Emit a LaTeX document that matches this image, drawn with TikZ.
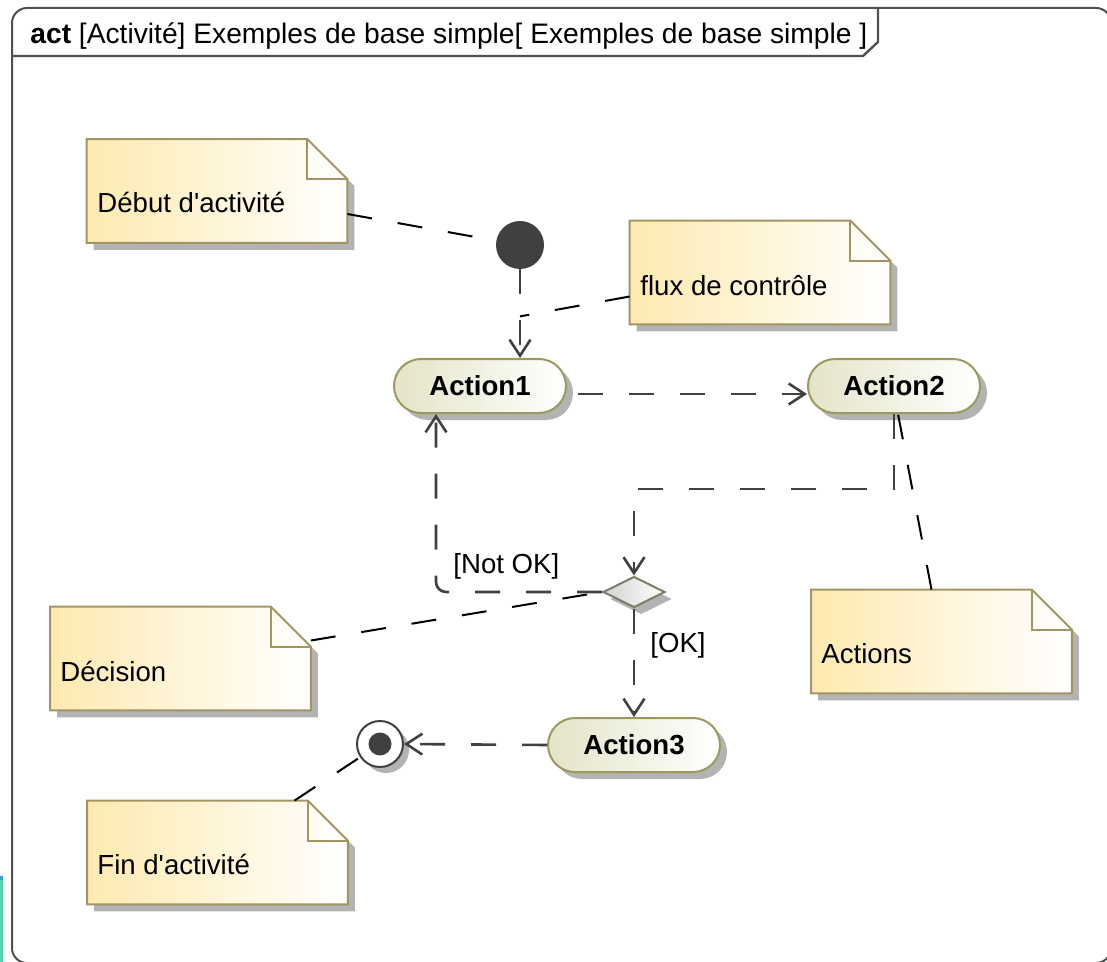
\documentclass[tikz,border=0pt]{standalone}
\usepackage{fontspec}
\setmainfont{Liberation Sans}
\usetikzlibrary{arrows.meta,shapes.misc,shapes.geometric,shadows,calc}
\definecolor{linec}{HTML}{404040}
\definecolor{frameC}{HTML}{505050}
\definecolor{noteB}{HTML}{A39562}
\definecolor{noteY}{HTML}{FEEAB0}
\definecolor{actB}{HTML}{9A9A5C}
\definecolor{actF}{HTML}{E4E4C8}
\definecolor{shad}{HTML}{B3B3B3}
\definecolor{decF}{HTML}{D2D2D2}
\definecolor{decB}{HTML}{7E7E68}
\definecolor{tealA}{HTML}{5AD2B4}
\definecolor{blueA}{HTML}{3A9FD0}
\newcommand\drawnote[1]{%
  \fill[shad] ($(#1.north east)+(7,47)$) -- ($(#1.south east)+(7,7)$) -- ($(#1.south west)+(7,7)$) -- ($(#1.south west)+(7,0)$) -- (#1.south east) -- ($(#1.north east)+(0,40)$) -- cycle;
  \shade[left color=noteY, right color=white] (#1.north west) -- ($(#1.north east)+(-40,0)$) -- ($(#1.north east)+(0,40)$) -- (#1.south east) -- (#1.south west) -- cycle;
  \draw[noteB, line width=1pt, line join=miter] (#1.north west) -- ($(#1.north east)+(-40,0)$) -- ($(#1.north east)+(0,40)$) -- (#1.south east) -- (#1.south west) -- cycle;
  \draw[noteB, line width=1pt] ($(#1.north east)+(-40,0)$) -- ($(#1.north east)+(-40,40)$) -- ($(#1.north east)+(0,40)$);
}
\begin{document}
\begin{tikzpicture}[x=0.5pt,y=-0.5pt,
  font=\fontsize{13.8}{16}\selectfont,
  flow/.style={draw=linec, line width=1.3pt, dash pattern=on 12.5pt off 13pt, -{Straight Barb[length=8pt,width=10.5pt]}},
  anchorline/.style={draw=black, line width=1pt, dash pattern=on 12.5pt off 13pt},
  action/.style={rounded rectangle, draw=actB, line width=1pt, left color=actF, right color=white,
    minimum width=86pt, minimum height=27pt, inner sep=0pt,
    font=\fontsize{13.8}{16}\selectfont\bfseries,
    drop shadow={shadow xshift=3.5pt, shadow yshift=-3.5pt, fill=shad, opacity=1}},
  notebox/.style={minimum width=130pt, minimum height=51.5pt, inner sep=0pt},
  notetext/.style={anchor=base west, inner sep=0pt},
  lbl/.style={anchor=base west, inner sep=0pt}]
\useasboundingbox (0,0) rectangle (1107,962);
% frame
\begin{scope}
\clip (0,0) rectangle (1107,962);
\draw[frameC, line width=1pt, rounded corners=7.5pt] (12,8) rectangle (1111,963);
\end{scope}
\draw[frameC, line width=1.2pt] (12,56) -- (863,56) -- (878,42) -- (878,8);
\node[anchor=base west, inner sep=0pt, font=\fontsize{14.1}{16}\selectfont] (title) at (30,44)
  {\textbf{act} [Activité] Exemples de base simple[ Exemples de base simple ]};
\fill[tealA] (0,878) rectangle (2.5,962);
\fill[blueA] (0,876) rectangle (2.5,880);

% notes
\node[notebox] (n1) at (217,191) {};
\node[notebox] (n2) at (760,272.5) {};
\node[notebox] (n3) at (180.5,658.5) {};
\node[notebox] (n4) at (941.5,641.5) {};
\node[notebox] (n5) at (217.5,852.5) {};
\drawnote{n1}\drawnote{n2}\drawnote{n3}\drawnote{n4}\drawnote{n5}
\node[notetext] (t1) at (97,213) {Début d\textquotesingle activité};
\node[notetext] (t2) at (640,296) {flux de contrôle};
\node[notetext] (t3) at (60,681) {Décision};
\node[notetext] (t4) at (821,663) {Actions};
\node[notetext] (t5) at (97,874) {Fin d\textquotesingle activité};

% activity nodes
\node[circle, fill=linec, minimum size=24pt, inner sep=0pt] (init) at (520,245) {};
\node[action] (a1) at (480,386) {Action1};
\node[action] (a2) at (894,386) {Action2};
\node[action] (a3) at (634,745) {Action3};
\node[diamond, draw=decB, line width=1pt, left color=decF, right color=white,
  minimum width=31pt, minimum height=15.5pt, inner sep=0pt,
  drop shadow={shadow xshift=3.5pt, shadow yshift=-3.5pt, fill=shad, opacity=1}] (dec) at (634,592) {};
\node[circle, draw=linec, line width=1pt, fill=white, minimum size=23pt, inner sep=0pt,
  drop shadow={shadow xshift=3pt, shadow yshift=-3pt, fill=shad, opacity=1}] (fin) at (380,744) {};
\node[circle, fill=linec, minimum size=11.5pt, inner sep=0pt] (findot) at (fin) {};

% control flows
\draw[flow] (init.south) -- (init.south |- a1.north) coordinate[pos=0.53] (fc);
\draw[flow] ($(a1.east)+(11,8)$) -- ($(a2.west)+(0,8)$);
\draw[flow] (a2.south) -- ++(0,75) -| (dec.north);
\draw[flow, rounded corners=5pt] (dec.west) -| ($(a1.south)+(-44,0)$);
\draw[flow] (dec.south) -- (a3.north);
\draw[flow] (a3.west) -- (fin.east);
\node[lbl] (lnok) at (453,573) {[Not OK]};
\node[lbl] (lok) at (650,652) {[OK]};

% note anchors
\draw[anchorline] ($(n1.east)+(0,23)$) -- (init);
\draw[anchorline] ($(n2.west)+(0,24)$) -- (fc);
\draw[anchorline] ($(n4.north)+(-10,0)$) -- ($(a2.south)+(4,0)$);
\draw[anchorline] ($(n3.east)+(0,-18)$) -- (dec.west);
\draw[anchorline] ($(n5.north)+(77,0)$) -- (fin);
\end{tikzpicture}
\end{document}
